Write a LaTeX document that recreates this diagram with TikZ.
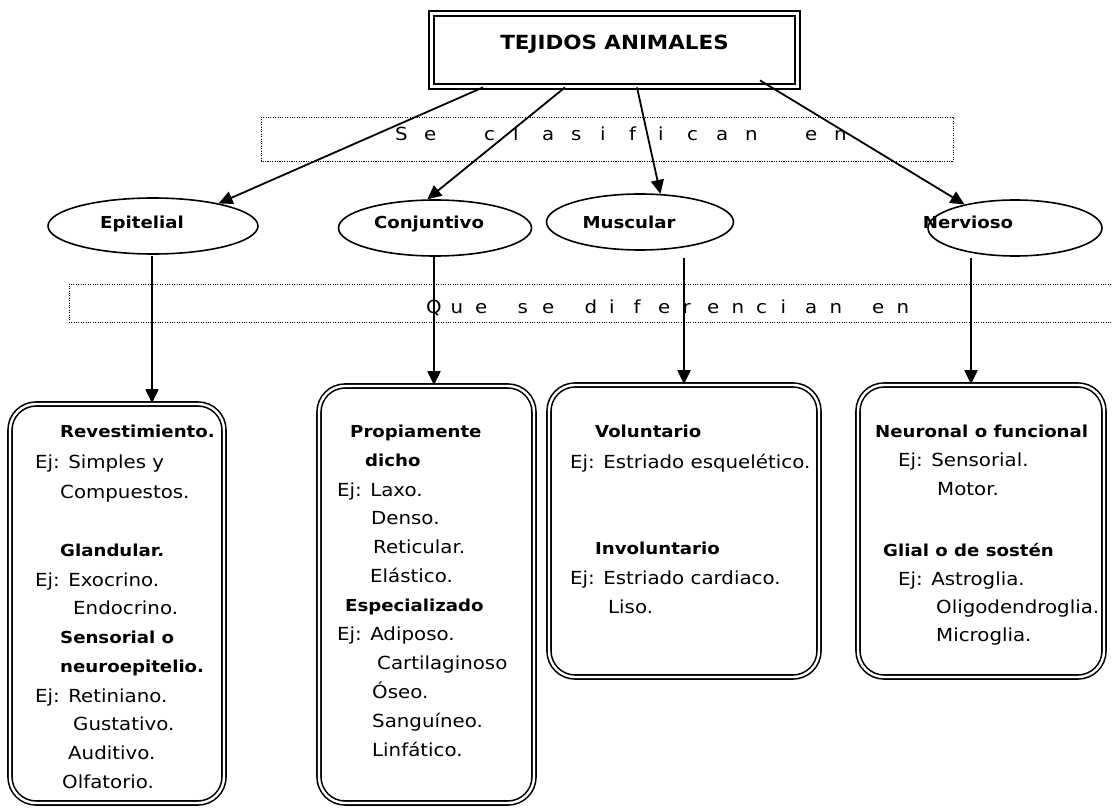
\documentclass[tikz,border=0pt]{standalone}
\usepackage{fontspec}
\setmainfont{DejaVu Sans}[FakeStretch=1.1]
\usetikzlibrary{arrows.meta,shapes.geometric,calc}
\newcommand\LA[1]{\makebox[29pt][l]{#1}}
\newcommand\LB[1]{\makebox[24.5pt][l]{#1}}
\begin{document}
\begin{tikzpicture}[x=1pt,y=-1pt,
  rg/.style={font=\fontsize{18}{20}\selectfont, anchor=base west, inner sep=0pt},
  bd/.style={font=\fontsize{16.5}{19}\selectfont\bfseries, anchor=base west, inner sep=0pt},
  lbl/.style={font=\fontsize{16.5}{19}\selectfont\bfseries, anchor=base, inner sep=0pt},
  arr/.style={line width=1.8pt, -{Triangle[length=14pt,width=13pt]}},
  ell/.style={ellipse, draw, line width=1.6pt, inner sep=0pt},
  dbox/.style={draw, rectangle, rounded corners=26pt, double, line width=1.6pt, double distance=2.4pt, inner sep=0pt},
  dotln/.style={line width=0.9pt, dash pattern=on 1.1pt off 1.3pt},
]
\useasboundingbox (0,0) rectangle (1112,810);

% dotted label boxes
\draw[dotln] (261,117) rectangle (953,161);
\node[rg, anchor=base west] (d1t) at (395,141)
  {\LA{S}\LA{e}\hspace{31pt}\LA{c}\LA{l}\LA{a}\LA{s}\LA{i}\LA{f}\LA{i}\LA{c}\LA{a}\LA{n}\hspace{31pt}\LA{e}\LA{n}};
\draw[dotln] (1116,284) -- (69,284) -- (69,322) -- (1116,322);
\node[rg, anchor=base west] (d2t) at (426,314)
  {\LB{Q}\LB{u}\LB{e}\hspace{18pt}\LB{s}\LB{e}\hspace{18pt}\LB{d}\LB{i}\LB{f}\LB{e}\LB{r}\LB{e}\LB{n}\LB{c}\LB{i}\LB{a}\LB{n}\hspace{18pt}\LB{e}\LB{n}};

% title
\node[draw, double, line width=1.8pt, double distance=3pt, inner sep=0pt,
      minimum width=366pt, text height=36.5pt, text depth=36.5pt,
      font=\fontsize{19.5}{22}\selectfont\bfseries] (title) at (614.5,50)
  {TEJIDOS ANIMALES\hspace{11pt}};

% ellipses
\node[ell, minimum width=210pt, minimum height=56pt] (epi) at (153,226) {};
\node[ell, minimum width=193pt, minimum height=56pt] (con) at (435,228) {};
\node[ell, minimum width=187pt, minimum height=56pt] (mus) at (640,222) {};
\node[ell, minimum width=174pt, minimum height=56pt] (ner) at (1015,228) {};
\node[lbl] (epit) at (142,229) {Epitelial};
\node[lbl] (cont) at (429,229) {Conjuntivo};
\node[lbl] (must) at (629,229) {Muscular};
\node[lbl] (nert) at (968,229) {Nervioso};

% arrows from title
\draw[arr] ($(title.south)+(-131.5,0)$) -- (epi.19);
\draw[arr] ($(title.south)+(-49.5,0)$) -- (con.105);
\draw[arr] ($(title.south)+(22.5,0)$) -- (mus.54);
\draw[arr] ($(title.south)+(145.5,-7)$) -- (ner.155);

% boxes
\node[dbox, minimum width=214pt, minimum height=399pt] (ebox) at (117,603.5) {};
\node[dbox, minimum width=215pt, minimum height=417pt] (cbox) at (426.5,594.5) {};
\node[dbox, minimum width=270pt, minimum height=292pt] (mbox) at (684,531) {};
\node[dbox, minimum width=246pt, minimum height=292pt] (nbox) at (981,531) {};

% vertical arrows
\coordinate (es) at (152,256);
\coordinate (cs) at (434,257);
\coordinate (ms) at (684,258);
\coordinate (ns) at (971,258);
\draw[arr] (es) -- (es |- ebox.north);
\draw[arr] (cs) -- (cs |- cbox.north);
\draw[arr] (ms) -- (ms |- mbox.north);
\draw[arr] (ns) -- (ns |- nbox.north);

% Epitelial text
\node[bd] (e1) at (60,438) {Revestimiento.};
\node[rg] (e2) at (35,468) {Ej: Simples y};
\node[rg] (e3) at (60,498) {Compuestos.};
\node[bd] (e4) at (60,556) {Glandular.};
\node[rg] (e5) at (35,586) {Ej: Exocrino.};
\node[rg] (e6) at (73,614) {Endocrino.};
\node[bd] (e7) at (60,643) {Sensorial o};
\node[bd] (e8) at (60,672) {neuroepitelio.};
\node[rg] (e9) at (35,702) {Ej: Retiniano.};
\node[rg] (e10) at (73,730) {Gustativo.};
\node[rg] (e11) at (68,759) {Auditivo.};
\node[rg] (e12) at (62,788) {Olfatorio.};

% Conjuntivo text
\node[bd] (c1) at (350,438) {Propiamente};
\node[bd] (c2) at (365,467) {dicho};
\node[rg] (c3) at (337,496) {Ej: Laxo.};
\node[rg] (c4) at (371,524) {Denso.};
\node[rg] (c5) at (373,553) {Reticular.};
\node[rg] (c6) at (370,582) {Elástico.};
\node[bd] (c7) at (345,611) {Especializado};
\node[rg] (c8) at (337,640) {Ej: Adiposo.};
\node[rg] (c9) at (377,669) {Cartilaginoso};
\node[rg] (c10) at (372,698) {Óseo.};
\node[rg] (c11) at (372,727) {Sanguíneo.};
\node[rg] (c12) at (372,756) {Linfático.};

% Muscular text
\node[bd] (m1) at (595,438) {Voluntario};
\node[rg] (m2) at (570,468) {Ej: Estriado esquelético.};
\node[bd] (m3) at (595,554) {Involuntario};
\node[rg] (m4) at (570,584) {Ej: Estriado cardiaco.};
\node[rg] (m5) at (608,613) {Liso.};

% Nervioso text
\node[bd] (n1) at (875,438) {Neuronal o funcional};
\node[rg] (n2) at (898,467) {Ej: Sensorial.};
\node[rg] (n3) at (937,495) {Motor.};
\node[bd] (n4) at (883,556) {Glial o de sostén};
\node[rg] (n5) at (898,585) {Ej: Astroglia.};
\node[rg] (n6) at (936,613) {Oligodendroglia.};
\node[rg] (n7) at (936,641) {Microglia.};
\end{tikzpicture}
\end{document}
